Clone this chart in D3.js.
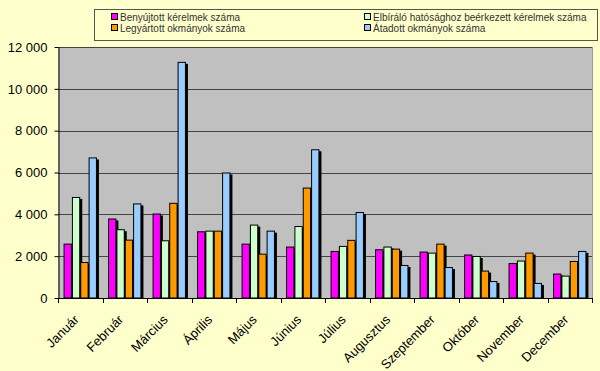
<!DOCTYPE html>
<html>
<head>
<meta charset="utf-8">
<script src="https://cdn.jsdelivr.net/npm/d3@7"></script>
<style>
	body { margin: 0; background: #ffffcc; }
	svg { display: block; font-family: "Liberation Sans", Arial, sans-serif; }
</style>
</head>
<body>
<div id="plot"></div>
<script>
var months = ["Január", "Február", "Március", "Április", "Május", "Június",
	"Július", "Augusztus", "Szeptember", "Október", "November", "December"]
var seriesNames = ["Benyújtott kérelmek száma", "Elbíráló hatósághoz beérkezett kérelmek száma",
	"Legyártott okmányok száma", "Átadott okmányok száma"]
var seriesColors = ["#ff00ff", "#ccffcc", "#ff9900", "#99ccff"]

var benyujtott = [2600, 3800, 4040, 3190, 2600, 2460, 2250, 2330, 2220, 2080, 1670, 1170]
var elbiralo   = [4830, 3290, 2760, 3220, 3510, 3440, 2490, 2460, 2170, 2010, 1790, 1070]
var legyartott = [1720, 2790, 4550, 3220, 2120, 5280, 2780, 2360, 2600, 1310, 2170, 1770]
var atadott    = [6720, 4520, 11290, 6000, 3220, 7110, 4110, 1580, 1480, 810, 720, 2250]
var yTicks = [0, 2000, 4000, 6000, 8000, 10000, 12000]

var allSeries = [benyujtott, elbiralo, legyartott, atadott]

var width = 600, height = 371
var plotLeft = 58, plotRight = 592, plotTop = 47, plotBottom = 298

var svg = d3.select("#plot").append("svg")
	.attr("width", width)
	.attr("height", height)

svg.append("rect").attr("width", width).attr("height", height).attr("fill", "#ffffcc")

var x0 = d3.scaleBand().domain(months).range([plotLeft, plotRight]).paddingInner(0.25).paddingOuter(0.125)
var x1 = d3.scaleBand().domain(d3.range(4)).range([0, x0.bandwidth()])
var y = d3.scaleLinear().domain([0, 12000]).range([plotBottom, plotTop])

// plot area
svg.append("rect")
	.attr("x", plotLeft).attr("y", plotTop)
	.attr("width", plotRight - plotLeft).attr("height", plotBottom - plotTop)
	.attr("fill", "#c0c0c0")
svg.append("line")
	.attr("x1", plotRight + 0.5).attr("x2", plotRight + 0.5)
	.attr("y1", plotTop).attr("y2", plotBottom)
	.style("stroke", "#999999")

// gridlines
svg.selectAll("line.grid").data(yTicks.slice(1)).enter().append("line")
	.attr("class", "grid")
	.attr("x1", plotLeft).attr("x2", plotRight)
	.attr("y1", function(d){ return Math.round(y(d)) + 0.5 })
	.attr("y2", function(d){ return Math.round(y(d)) + 0.5 })
	.style("stroke", "#444444")

var fmt = function(d){ return d3.format(",")(d).replace(",", " ") }

var groups = svg.selectAll("g.month").data(months).enter().append("g")
	.attr("class", "month")
	.attr("transform", function(d){ return "translate(" + x0(d) + ",0)" })

groups.each(function(m, i){
	var g = d3.select(this)
	var vals = allSeries.map(function(s, k){ return {k: k, v: s[i]} })
	// shadows
	g.selectAll("rect.shadow").data(vals).enter().append("rect")
		.attr("class", "shadow")
		.attr("x", function(d){ return x1(d.k) + 2 })
		.attr("y", function(d){ return y(d.v) + 2 })
		.attr("width", x1.bandwidth())
		.attr("height", function(d){ return Math.max(0, plotBottom - y(d.v) - 2) })
		.attr("fill", "#000000")
	g.selectAll("rect.bar").data(vals).enter().append("rect")
		.attr("class", "bar")
		.attr("x", function(d){ return x1(d.k) + 0.5 })
		.attr("y", function(d){ return y(d.v) + 0.5 })
		.attr("width", x1.bandwidth() - 1)
		.attr("height", function(d){ return plotBottom - y(d.v) - 0.5 })
		.attr("fill", function(d){ return seriesColors[d.k] })
		.style("stroke", "#000000")
		.style("stroke-width", 1)
})

// y axis
var yAxis = svg.append("g")
	.attr("transform", "translate(" + (plotLeft + 0.5) + ",0)")
	.call(d3.axisLeft(y).tickValues(yTicks).tickFormat(fmt).tickSize(4).tickSizeOuter(0))
yAxis.selectAll("text").style("font-size", "13px").style("fill", "#000").attr("x", -11)
yAxis.selectAll("line, path").style("stroke", "#000")

// x axis: ticks at category boundaries
var bounds = d3.range(13).map(function(i){ return plotLeft + i * (plotRight - plotLeft) / 12 })
var xAxis = svg.append("g")
xAxis.append("line")
	.attr("x1", plotLeft).attr("x2", plotRight)
	.attr("y1", plotBottom + 0.5).attr("y2", plotBottom + 0.5)
	.style("stroke", "#000")
xAxis.selectAll("line.tick").data(bounds).enter().append("line")
	.attr("class", "tick")
	.attr("x1", function(d){ return Math.round(d) + 0.5 })
	.attr("x2", function(d){ return Math.round(d) + 0.5 })
	.attr("y1", plotBottom).attr("y2", plotBottom + 5)
	.style("stroke", "#000")
xAxis.selectAll("text").data(months).enter().append("text")
	.attr("transform", function(d){
		var cx = x0(d) + x0.bandwidth() / 2
		return "translate(" + (cx - 7) + "," + (plotBottom + 16) + ") rotate(-45)"
	})
	.attr("text-anchor", "end")
	.attr("dy", "0.7em")
	.style("font-size", "13px")
	.style("fill", "#000")
	.text(function(d){ return d })

// legend
var legend = svg.append("g")
legend.append("rect")
	.attr("x", 94.5).attr("y", 9.5).attr("width", 503).attr("height", 31)
	.attr("fill", "#ffffcc")
	.style("stroke", "#555555")
var legendPos = [[111, 17], [364, 17], [111, 28], [364, 28]]
var items = legend.selectAll("g.item").data(seriesNames).enter().append("g")
	.attr("class", "item")
	.attr("transform", function(d, i){ return "translate(" + legendPos[i][0] + "," + legendPos[i][1] + ")" })
items.append("rect")
	.attr("x", 0.5).attr("y", -3.5).attr("width", 6).attr("height", 6)
	.attr("fill", function(d, i){ return seriesColors[i] })
	.style("stroke", "#000")
items.append("text")
	.attr("x", 9).attr("y", 0).attr("dy", "0.35em")
	.style("font-size", "10px")
	.style("fill", "#333")
	.text(function(d){ return d })
</script>
</body>
</html>
